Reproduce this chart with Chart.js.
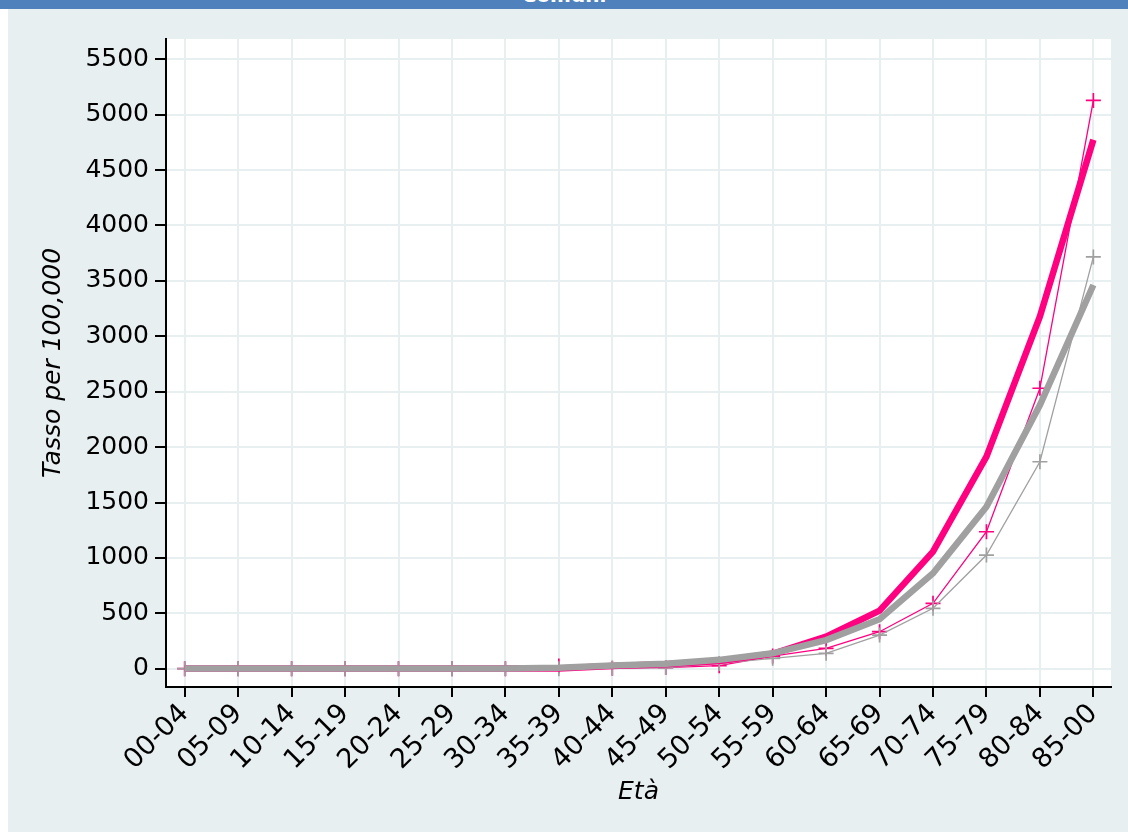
<!DOCTYPE html>
<html>
<head>
    <title>Tasso per 100,000</title>
    <script src="https://cdn.jsdelivr.net/npm/chart.js"></script>
    <style>
        body {
            margin: 0;
            width: 1128px;
            height: 832px;
            background: #fff;
            overflow: hidden;
            position: relative;
            font-family: "DejaVu Sans", sans-serif;
        }

        .banner {
            position: absolute;
            left: 0;
            top: 0;
            width: 1128px;
            height: 9px;
            background: #4f81bd;
            overflow: hidden;
        }

        .banner span {
            position: absolute;
            left: 0;
            width: 100%;
            top: -17px;
            text-align: center;
            color: #fff;
            font-weight: bold;
            font-size: 20px;
            line-height: 24px;
        }

        .wrap {
            position: absolute;
            left: 8px;
            top: 9px;
            width: 1120px;
            height: 823px;
        }
    </style>
</head>
<body>
    <div class="banner"><span>Comuni</span></div>
    <div class="wrap">
        <canvas id="graph" width="1120" height="823"></canvas>
    </div>

    <script>
        const ageGroups = ['00-04', '05-09', '10-14', '15-19', '20-24', '25-29', '30-34', '35-39', '40-44',
            '45-49', '50-54', '55-59', '60-64', '65-69', '70-74', '75-79', '80-84', '85-00'];
        const yTicks = [0, 500, 1000, 1500, 2000, 2500, 3000, 3500, 4000, 4500, 5000, 5500];

        // thick lines (no markers)
        const pinkThick = [2, 2, 2, 2, 2, 2, 2, 3, 25, 40, 70, 135, 289, 524, 1056, 1914, 3180, 4774];
        const grayThick = [3, 3, 3, 3, 3, 3, 3, 8, 30, 45, 80, 139, 258, 446, 861, 1462, 2380, 3463];
        // thin lines with + markers
        const pinkThin = [0, 0, 0, 0, 0, 0, 0, 25, 5, 10, 27, 114, 184, 334, 590, 1236, 2531, 5129];
        const grayThin = [0, 0, 0, 0, 0, 0, 0, 0, 5, 10, 48, 94, 139, 304, 545, 1026, 1868, 3716];

        const pink = '#ff0080';
        const gray = '#a0a0a0';
        const yTickFont = { family: 'DejaVu Sans', size: 25 };
        const xTickFont = { family: 'DejaVu Sans', size: 27 };
        const titleFont = { family: 'DejaVu Sans', size: 25, style: 'italic' };

        const toPoints = arr => arr.map((y, i) => ({ x: i, y: y }));

        const bgPlugin = {
            id: 'bg',
            beforeDraw(chart) {
                const { ctx, chartArea } = chart;
                ctx.save();
                ctx.fillStyle = '#e8eff1';
                ctx.fillRect(0, 0, chart.width, chart.height);
                ctx.fillStyle = '#fff';
                ctx.fillRect(chartArea.left, chartArea.top, chartArea.right - chartArea.left, chartArea.bottom - chartArea.top);
                ctx.restore();
            }
        };

        const ctx = document.getElementById('graph').getContext('2d');

        new Chart(ctx, {
            type: 'line',
            data: {
                datasets: [{
                    data: toPoints(grayThick),
                    borderColor: gray,
                    borderWidth: 6.5,
                    pointRadius: 0,
                    fill: false
                }, {
                    data: toPoints(pinkThick),
                    borderColor: pink,
                    borderWidth: 6.5,
                    pointRadius: 0,
                    fill: false
                }, {
                    data: toPoints(grayThin),
                    borderColor: gray,
                    borderWidth: 1.3,
                    pointStyle: 'cross',
                    pointRadius: 7.5,
                    pointBorderWidth: 1.7,
                    pointBorderColor: gray,
                    fill: false
                }, {
                    data: toPoints(pinkThin),
                    borderColor: pink,
                    borderWidth: 1.3,
                    pointStyle: 'cross',
                    pointRadius: 7.5,
                    pointBorderWidth: 1.7,
                    pointBorderColor: pink,
                    fill: false
                }]
            },
            options: {
                responsive: false,
                animation: false,
                layout: { padding: { top: 30, right: 17, left: 0, bottom: 0 } },
                elements: { line: { tension: 0 } },
                plugins: {
                    legend: { display: false },
                    tooltip: { enabled: false }
                },
                scales: {
                    x: {
                        type: 'linear',
                        min: -0.35,
                        max: 17.33,
                        afterBuildTicks: s => { s.ticks = ageGroups.map((_, i) => ({ value: i })); },
                        afterFit: s => { s.height = 145; },
                        ticks: {
                            autoSkip: false,
                            maxRotation: 45,
                            minRotation: 45,
                            padding: 1,
                            color: '#000',
                            font: xTickFont,
                            callback: v => ageGroups[v]
                        },
                        grid: {
                            color: '#e8eff1',
                            lineWidth: 2,
                            tickColor: '#000',
                            tickLength: 10,
                            tickWidth: 2
                        },
                        border: { color: '#000', width: 2 },
                        title: {
                            display: true,
                            text: 'Età',
                            color: '#000',
                            font: titleFont,
                            padding: { top: 0, bottom: 25 }
                        }
                    },
                    y: {
                        type: 'linear',
                        min: -165,
                        max: 5683,
                        afterBuildTicks: s => { s.ticks = yTicks.map(v => ({ value: v })); },
                        afterFit: s => { s.width = 158; },
                        ticks: {
                            padding: 6,
                            color: '#000',
                            font: yTickFont,
                            callback: v => String(v)
                        },
                        grid: {
                            color: '#e8eff1',
                            lineWidth: 2,
                            tickColor: '#000',
                            tickLength: 11,
                            tickWidth: 2
                        },
                        border: { color: '#000', width: 2 },
                        title: {
                            display: true,
                            text: 'Tasso per 100,000',
                            color: '#000',
                            font: titleFont,
                            padding: { top: 30, bottom: 0 }
                        }
                    }
                }
            },
            plugins: [bgPlugin]
        });
    </script>
</body>
</html>
